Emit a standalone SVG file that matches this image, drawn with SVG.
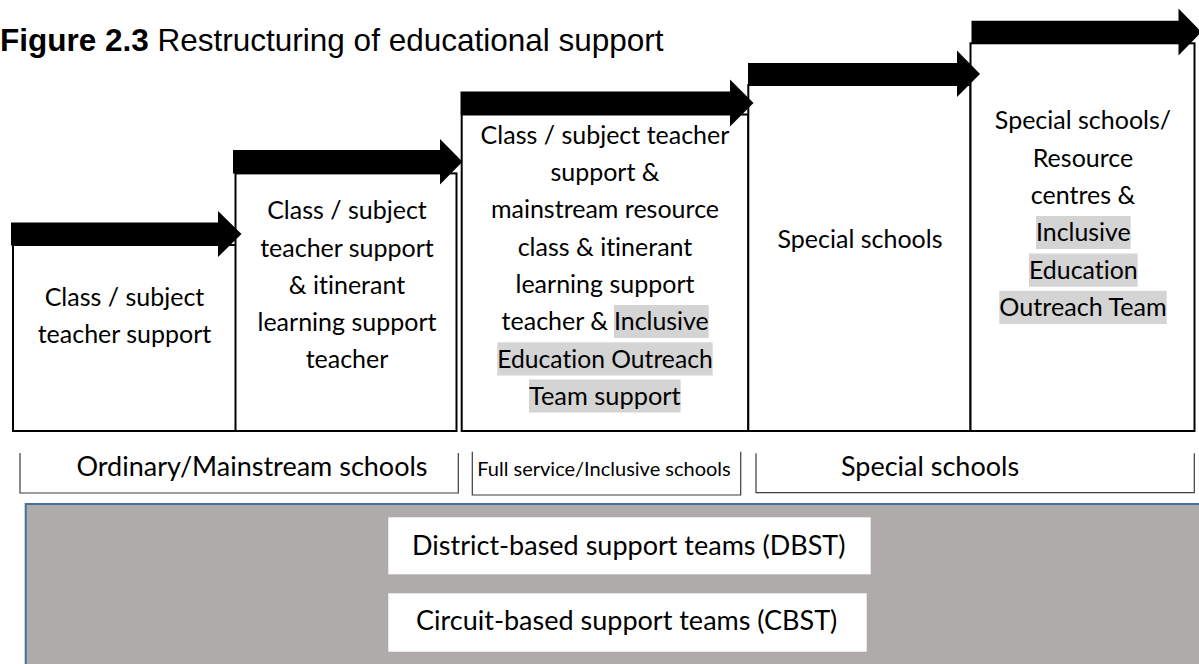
<svg xmlns="http://www.w3.org/2000/svg" width="1199" height="664" viewBox="0 0 1199 664">
<style>
text{font-variant-ligatures:none;font-feature-settings:"liga" 0,"dlig" 0}
.box{fill:#fff;stroke:#000;stroke-width:2}
.t{font-family:Lato,"Open Sans",sans-serif;font-size:25px;fill:#000;text-anchor:middle}
.ts{font-family:Lato,"Open Sans",sans-serif;font-size:25px;fill:#000}
.hl{fill:#d4d4d4}
.br{fill:none;stroke:#3c3c3c;stroke-width:1.2}
.lb{font-family:Lato,"Open Sans",sans-serif;font-size:27px;fill:#000;text-anchor:middle}
.lbs{font-family:Lato,"Open Sans",sans-serif;font-size:20px;fill:#000;text-anchor:middle}
.arrow{fill:#000}
.wb{fill:#fff}
</style>
<rect x="0" y="0" width="1199" height="664" fill="#fff"/>
<text id="title" x="0" y="51" font-family="'Liberation Sans',Arial,sans-serif" font-size="31.5" fill="#000"><tspan font-weight="bold">Figure 2.3</tspan> Restructuring of educational support</text>

<g id="step1">
<rect class="box" x="13" y="245" width="223" height="186"/>
<text class="t" x="124.5" y="306">Class / subject</text>
<text class="t" x="124.5" y="343.3">teacher support</text>
</g>
<g id="step2">
<rect class="box" x="235.5" y="173.4" width="221" height="257.6"/>
<text class="t" x="347" y="219.3">Class / subject</text>
<text class="t" x="347" y="256.5">teacher support</text>
<text class="t" x="347" y="293.8">&amp; itinerant</text>
<text class="t" x="347" y="331">learning support</text>
<text class="t" x="347" y="368.3">teacher</text>
</g>
<g id="step3">
<rect class="box" x="461.7" y="114.5" width="286.6" height="316.5"/>
<rect class="hl" x="614" y="305" width="94.7" height="33"/>
<rect class="hl" x="497.3" y="342.3" width="215.4" height="33.2"/>
<rect class="hl" x="529" y="379.5" width="151.7" height="33"/>
<text class="t" x="605" y="143.7">Class / subject teacher</text>
<text class="t" x="605" y="181">support &amp;</text>
<text class="t" x="605" y="218.4">mainstream resource</text>
<text class="t" x="605" y="255.7">class &amp; itinerant</text>
<text class="t" x="605" y="293">learning support</text>
<text class="ts" x="608" y="330.4" text-anchor="end">teacher &amp;</text>
<text class="ts" x="614" y="330.4" textLength="94.7" lengthAdjust="spacingAndGlyphs">Inclusive</text>
<text class="ts" x="497.3" y="367.7" textLength="215.4" lengthAdjust="spacingAndGlyphs">Education Outreach</text>
<text class="ts" x="529" y="405" textLength="151.7" lengthAdjust="spacingAndGlyphs">Team support</text>
</g>
<g id="step4">
<rect class="box" x="748.3" y="85" width="222.2" height="346"/>
<text class="t" x="860" y="247.7">Special schools</text>
</g>
<g id="step5">
<rect class="box" x="970.5" y="43.3" width="224" height="387.7"/>
<rect class="hl" x="1036" y="216" width="94.7" height="33"/>
<rect class="hl" x="1029" y="253.5" width="108.7" height="33.2"/>
<rect class="hl" x="999.3" y="290.8" width="167.4" height="33.2"/>
<text class="t" x="1083" y="129.4">Special schools/</text>
<text class="t" x="1083" y="166.7">Resource</text>
<text class="t" x="1083" y="204">centres &amp;</text>
<text class="ts" x="1036" y="241.4" textLength="94.7" lengthAdjust="spacingAndGlyphs">Inclusive</text>
<text class="ts" x="1029" y="278.7" textLength="108.7" lengthAdjust="spacingAndGlyphs">Education</text>
<text class="ts" x="999.3" y="316" textLength="167.4" lengthAdjust="spacingAndGlyphs">Outreach Team</text>
</g>

<g id="connectors">
<polygon class="arrow" points="11,222.5 218,222.5 218,211 241.5,234 218,257 218,245.5 11,245.5"/>
<polygon class="arrow" points="233,150 440,150 440,139 462.5,161.7 440,184.5 440,173.4 233,173.4"/>
<polygon class="arrow" points="460.5,91.5 730,91.5 730,79.5 753.5,103 730,126.5 730,114.5 460.5,114.5"/>
<polygon class="arrow" points="748,63 957,63 957,50.5 980,74 957,97 957,85 748,85"/>
<polygon class="arrow" points="971.5,20.7 1178.5,20.7 1178.5,8.5 1201.5,32 1178.5,55.5 1178.5,43.3 971.5,43.3"/>
</g>

<g id="label-ordinary">
<polyline class="br" points="20,453 20,493 458.3,493 458.3,453"/>
<text class="lb" x="252" y="476">Ordinary/Mainstream schools</text>
</g>
<g id="label-fullservice">
<polyline class="br" points="472.3,451.7 472.3,495 740.7,495 740.7,451.7"/>
<text class="lbs" x="604" y="476">Full service/Inclusive schools</text>
</g>
<g id="label-special">
<polyline class="br" points="756,453.3 756,492.7 1194.3,492.7 1194.3,453.3"/>
<text class="lb" x="930" y="476">Special schools</text>
</g>

<g id="support-panel">
<rect x="25.7" y="504" width="1200" height="200" fill="#afabab" stroke="#41719c" stroke-width="2"/>
</g>
<g id="dbst">
<rect class="wb" x="388.3" y="517.3" width="482.4" height="57"/>
<text class="lb" x="628.8" y="555">District-based support teams (DBST)</text>
</g>
<g id="cbst">
<rect class="wb" x="388.3" y="593.3" width="478.4" height="58.4"/>
<text class="lb" x="626.7" y="630">Circuit-based support teams (CBST)</text>
</g>
</svg>
